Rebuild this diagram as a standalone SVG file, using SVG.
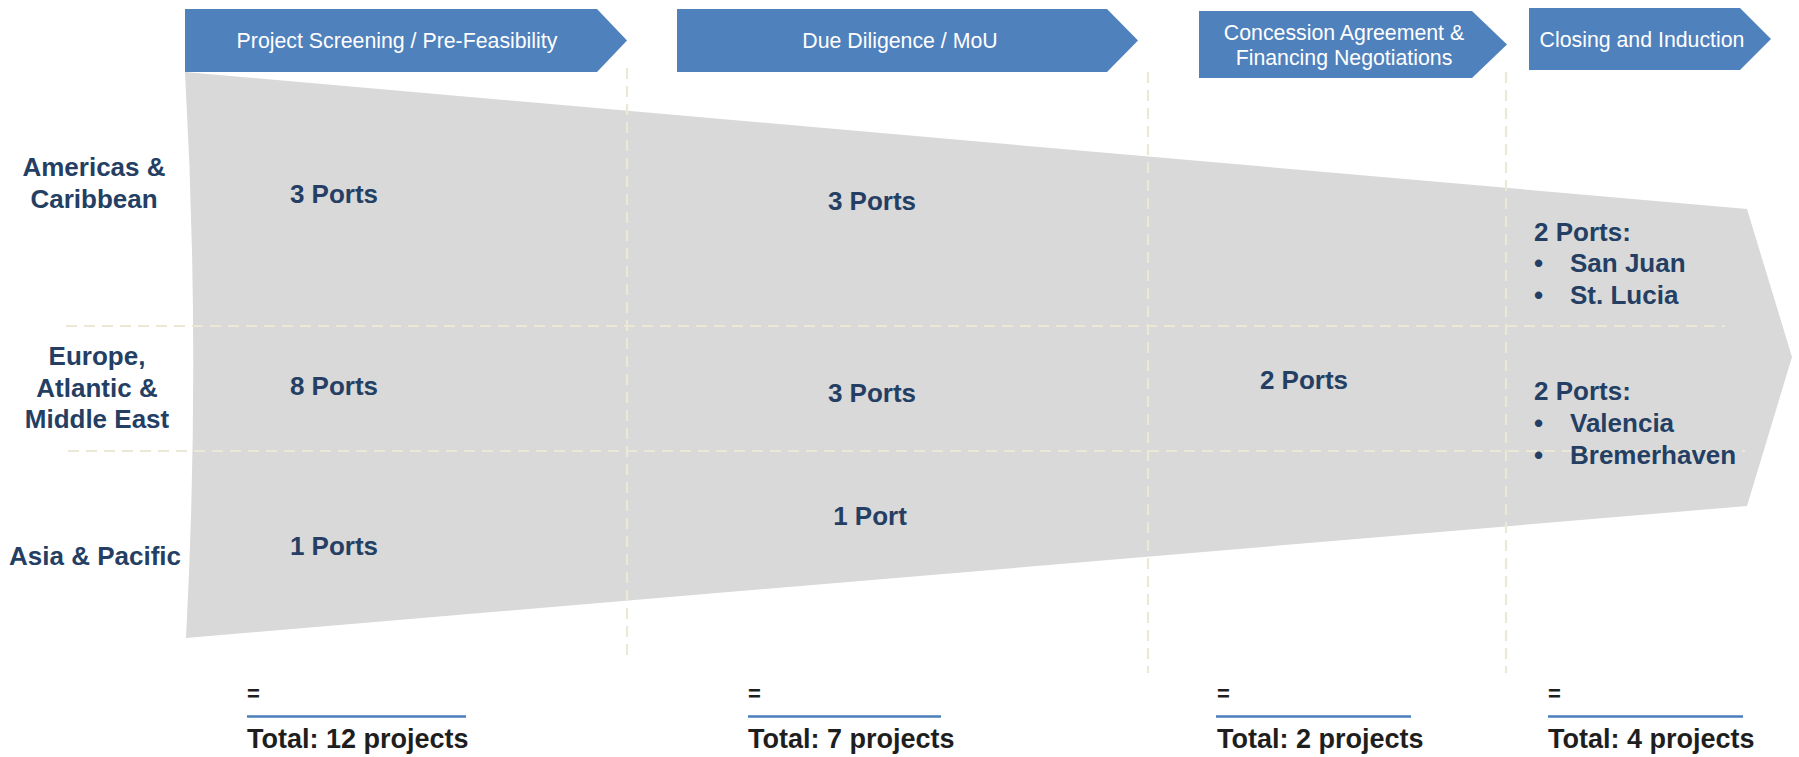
<svg xmlns="http://www.w3.org/2000/svg" width="1799" height="757" viewBox="0 0 1799 757">
  <style>
    .stage { fill: #4F81BD; }
    .stage-text { font-family: "Liberation Sans", Arial, sans-serif; font-size: 21.3px; fill: #FFFFFF; text-anchor: middle; }
    .region { font-family: "Liberation Sans", Arial, sans-serif; font-size: 26px; font-weight: bold; fill: #243F63; text-anchor: middle; }
    .count { font-family: "Liberation Sans", Arial, sans-serif; font-size: 26px; font-weight: bold; fill: #243F63; }
    .mid { text-anchor: middle; }
    .grid { stroke: #ECE8D6; stroke-width: 2.2; stroke-dasharray: 11 7; fill: none; }
    .sum-rule { stroke: #4A7EBB; stroke-width: 2.5; }
    .eq { font-family: "Liberation Sans", Arial, sans-serif; font-size: 22px; font-weight: bold; fill: #1E1E1E; }
    .total { font-family: "Liberation Sans", Arial, sans-serif; font-size: 27px; font-weight: bold; fill: #1E1E1E; }
  </style>

  <rect width="1799" height="757" fill="#FFFFFF"/>

  <!-- funnel body -->
  <path id="funnel" d="M185,72 L1747,209 L1792,357 L1747,506 L186,638 Q201,355 185,72 Z" fill="#D9D9D9"/>

  <!-- dashed grid -->
  <g id="grid" class="grid">
    <line x1="66" y1="326" x2="1725" y2="326"/>
    <line x1="68" y1="451" x2="1745" y2="451"/>
    <line x1="627" y1="68" x2="627" y2="660"/>
    <line x1="1148" y1="72" x2="1148" y2="673"/>
    <line x1="1506" y1="72" x2="1506" y2="673"/>
  </g>

  <!-- stage banners -->
  <g id="stage-screening">
    <path class="stage" d="M185,9 H597 L627,40.5 L597,72 H185 Z"/>
    <text class="stage-text" x="397" y="48">Project Screening / Pre-Feasibility</text>
  </g>
  <g id="stage-due-diligence">
    <path class="stage" d="M677,9 H1107 L1138,40.5 L1107,72 H677 Z"/>
    <text class="stage-text" x="900" y="48">Due Diligence / MoU</text>
  </g>
  <g id="stage-concession">
    <path class="stage" d="M1199,11 H1472 L1507,44.5 L1472,78 H1199 Z"/>
    <text class="stage-text" x="1344" y="40">Concession Agreement &amp;</text>
    <text class="stage-text" x="1344" y="65">Financing Negotiations</text>
  </g>
  <g id="stage-closing">
    <path class="stage" d="M1529,8 H1740 L1771,39 L1740,70 H1529 Z"/>
    <text class="stage-text" x="1642" y="47">Closing and Induction</text>
  </g>

  <!-- region labels -->
  <g id="region-americas">
    <text class="region" x="94" y="176">Americas &amp;</text>
    <text class="region" x="94" y="208">Caribbean</text>
  </g>
  <g id="region-europe">
    <text class="region" x="97" y="365">Europe,</text>
    <text class="region" x="97" y="397">Atlantic &amp;</text>
    <text class="region" x="97" y="428">Middle East</text>
  </g>
  <g id="region-asia">
    <text class="region" x="95" y="565">Asia &amp; Pacific</text>
  </g>

  <!-- screening counts -->
  <g id="screening-counts">
    <text class="count mid" x="334" y="203">3 Ports</text>
    <text class="count mid" x="334" y="395">8 Ports</text>
    <text class="count mid" x="334" y="555">1 Ports</text>
  </g>

  <!-- due diligence counts -->
  <g id="due-diligence-counts">
    <text class="count mid" x="872" y="210">3 Ports</text>
    <text class="count mid" x="872" y="402">3 Ports</text>
    <text class="count mid" x="870" y="525">1 Port</text>
  </g>

  <!-- concession counts -->
  <g id="concession-counts">
    <text class="count mid" x="1304" y="389">2 Ports</text>
  </g>

  <!-- closing counts -->
  <g id="closing-americas">
    <text class="count" x="1534" y="241">2 Ports:</text>
    <text class="count" x="1534" y="272">•</text>
    <text class="count" x="1570" y="272">San Juan</text>
    <text class="count" x="1534" y="304">•</text>
    <text class="count" x="1570" y="304">St. Lucia</text>
  </g>
  <g id="closing-europe">
    <text class="count" x="1534" y="400">2 Ports:</text>
    <text class="count" x="1534" y="432">•</text>
    <text class="count" x="1570" y="432">Valencia</text>
    <text class="count" x="1534" y="464">•</text>
    <text class="count" x="1570" y="464">Bremerhaven</text>
  </g>

  <!-- totals -->
  <g id="total-screening">
    <text class="eq" x="247" y="701">=</text>
    <line class="sum-rule" x1="247" y1="716.5" x2="466" y2="716.5"/>
    <text class="total" x="247" y="748">Total: 12 projects</text>
  </g>
  <g id="total-due-diligence">
    <text class="eq" x="748" y="701">=</text>
    <line class="sum-rule" x1="748" y1="716.5" x2="941" y2="716.5"/>
    <text class="total" x="748" y="748">Total: 7 projects</text>
  </g>
  <g id="total-concession">
    <text class="eq" x="1217" y="701">=</text>
    <line class="sum-rule" x1="1216" y1="716.5" x2="1411" y2="716.5"/>
    <text class="total" x="1217" y="748">Total: 2 projects</text>
  </g>
  <g id="total-closing">
    <text class="eq" x="1548" y="701">=</text>
    <line class="sum-rule" x1="1548" y1="716.5" x2="1743" y2="716.5"/>
    <text class="total" x="1548" y="748">Total: 4 projects</text>
  </g>
</svg>
